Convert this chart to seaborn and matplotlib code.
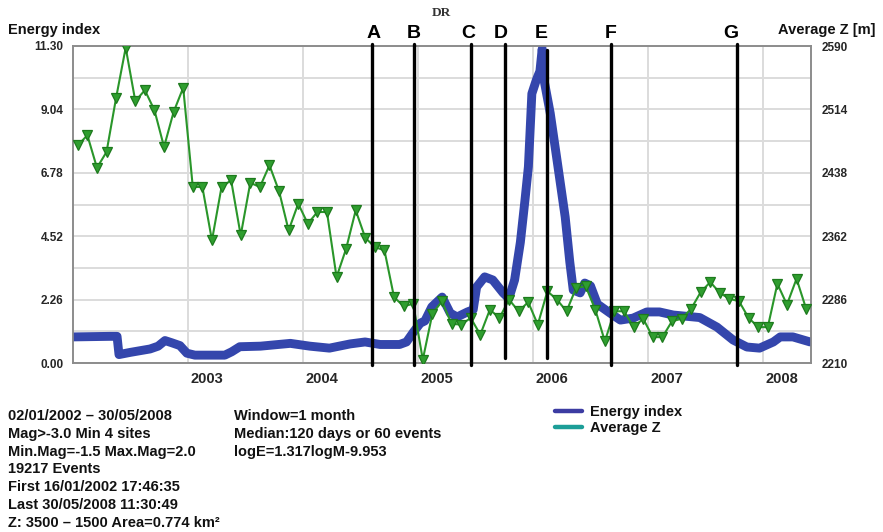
import numpy as np
import pandas as pd
import matplotlib
matplotlib.use("Agg")
import matplotlib.pyplot as plt
from matplotlib.lines import Line2D
from matplotlib.ticker import MultipleLocator
from matplotlib.transforms import ScaledTranslation
import seaborn as sns

# ---------------------------------------------------------------- data
# Energy index (left axis): knots of the smoothed daily curve, decimal years
energy_year = [2002.00, 2002.32, 2002.383, 2002.40, 2002.50, 2002.67, 2002.74,
               2002.80, 2002.86, 2002.93, 2002.99, 2003.06, 2003.32, 2003.38,
               2003.45, 2003.63, 2003.89, 2004.06, 2004.23, 2004.41, 2004.54,
               2004.67, 2004.84, 2004.90, 2004.96, 2005.02, 2005.06, 2005.12,
               2005.21, 2005.28, 2005.34, 2005.43, 2005.48, 2005.51, 2005.58,
               2005.65, 2005.74, 2005.79, 2005.84, 2005.89, 2005.93, 2005.96,
               2005.99, 2006.03, 2006.06, 2006.08, 2006.10, 2006.15, 2006.21,
               2006.28, 2006.32, 2006.35, 2006.41, 2006.45, 2006.50, 2006.56,
               2006.67, 2006.76, 2006.87, 2006.99, 2007.10, 2007.22, 2007.45,
               2007.60, 2007.74, 2007.86, 2007.97, 2008.09, 2008.15, 2008.26,
               2008.41]
energy_value = [0.93, 0.95, 0.95, 0.30, 0.38, 0.50, 0.60,
                0.80, 0.72, 0.62, 0.35, 0.28, 0.28, 0.40,
                0.58, 0.60, 0.70, 0.60, 0.53, 0.68, 0.75,
                0.66, 0.66, 0.75, 1.10, 1.42, 1.50, 2.00,
                2.35, 1.78, 1.64, 1.82, 1.90, 2.71, 3.07,
                2.96, 2.50, 2.30, 2.96, 4.30, 5.80, 7.00,
                9.60, 10.10, 10.40, 11.20, 10.00, 8.90, 7.20,
                5.20, 3.60, 2.60, 2.50, 2.85, 2.75, 2.10,
                1.78, 1.53, 1.60, 1.82, 1.82, 1.71, 1.62,
                1.28, 0.82, 0.57, 0.53, 0.75, 0.93, 0.93,
                0.75]

# Average event depth Z [m] (right axis), monthly from Jan 2002 to May 2008
depth_z = [2471, 2483, 2444, 2463, 2528, 2588, 2524, 2537, 2513, 2469, 2511, 2540,
           2421, 2421, 2357, 2421, 2429, 2363, 2426, 2421, 2447, 2416, 2369, 2401,
           2377, 2391, 2391, 2313, 2347, 2393, 2360, 2349, 2345, 2289, 2278, 2281,
           2214, 2269, 2284, 2257, 2256, 2264, 2244, 2274, 2264, 2286, 2272, 2283,
           2256, 2296, 2286, 2272, 2300, 2302, 2274, 2236, 2272, 2272, 2253, 2263,
           2241, 2241, 2260, 2263, 2275, 2295, 2307, 2294, 2287, 2284, 2264, 2253,
           2253, 2305, 2280, 2311, 2275]
depth_first_year = 2002

# Marked events
event_labels = ["A", "B", "C", "D", "E", "F", "G"]
event_year = [2004.600, 2004.965, 2005.461, 2005.757, 2006.122, 2006.678, 2007.774]

energy_ticks = [0.00, 2.26, 4.52, 6.78, 9.04, 11.30]
depth_ticks = [2210, 2286, 2362, 2438, 2514, 2590]
year_ticks = [2003, 2004, 2005, 2006, 2007, 2008]

info_left = ["02/01/2002 \u2013 30/05/2008",
             "Mag>-3.0 Min 4 sites",
             "Min.Mag=-1.5 Max.Mag=2.0",
             "19217 Events",
             "First 16/01/2002 17:46:35",
             "Last 30/05/2008 11:30:49",
             "Z: 3500 \u2013 1500 Area=0.774 km\u00b2"]
info_right = ["Window=1 month",
              "Median:120 days or 60 events",
              "logE=1.317logM-9.953"]
legend_labels = ["Energy index", "Average Z"]

# ---------------------------------------------------------------- style
sns.set_theme(style="white")
plt.rcParams["font.family"] = ["Liberation Sans", "DejaVu Sans"]
plt.rcParams["font.weight"] = "bold"
plt.rcParams["text.color"] = "#111111"

W, H = 883, 532
fig = plt.figure(figsize=(W / 100, H / 100), dpi=100)
px_l, px_r, px_t, px_b = 73, 811, 46, 363
ax = fig.add_axes([px_l / W, 1 - px_b / H, (px_r - px_l) / W, (px_b - px_t) / H])
ax2 = ax.twinx()

energy_df = pd.DataFrame({"year": energy_year, "energy": energy_value})
month_pos = depth_first_year + (np.arange(len(depth_z)) + 0.5) / 12
depth_df = pd.DataFrame({"year": month_pos, "z": depth_z})

blue = "#3446ac"
green = "#2a962a"

sns.lineplot(data=energy_df, x="year", y="energy", ax=ax, color=blue,
             lw=6.4, estimator=None, sort=False, solid_capstyle="round",
             solid_joinstyle="round", zorder=3)
sns.lineplot(data=depth_df, x="year", y="z", ax=ax2, color=green, lw=1.5,
             estimator=None, sort=False, marker="v", markersize=6.5,
             markerfacecolor="#2f9e2f", markeredgecolor="#1d7a1d",
             markeredgewidth=0.9, zorder=4)

# axes limits and ticks
ax.set_xlim(2002.0, 2002.0 + (px_r - px_l) / 115)
ax.set_ylim(0, 11.30)
ax2.set_ylim(2210, 2590)

ax.set_yticks(energy_ticks)
ax.set_yticklabels([f"{t:.2f}" for t in energy_ticks], fontweight="bold")
ax.yaxis.set_minor_locator(MultipleLocator(1.13))
ax2.set_yticks(depth_ticks)
ax2.set_yticklabels([str(t) for t in depth_ticks], fontweight="bold")
ax.set_xticks(year_ticks)
ax.set_xticklabels([str(y) for y in year_ticks], fontweight="bold")
ax.xaxis.set_minor_locator(MultipleLocator(1 / 12))

ax.set_xlabel("")
ax.set_ylabel("")
ax2.set_ylabel("")

ax.grid(axis="y", which="both", color="#dcdcdc", lw=1.4)
ax.grid(axis="x", which="major", color="#dcdcdc", lw=1.4)
ax.set_axisbelow(True)

ax.tick_params(axis="y", which="both", length=0, pad=7, labelsize=8.5)
ax2.tick_params(axis="y", which="both", length=0, pad=8, labelsize=8.5)
ax.tick_params(axis="x", which="major", length=0, pad=6.5, labelsize=10.5)
ax.tick_params(axis="x", which="minor", direction="in", length=3,
               width=0.8, color="#9a9a9a")
shift = ScaledTranslation(19 / 100, 0, fig.dpi_scale_trans)
for lab in ax.get_xticklabels():
    lab.set_transform(lab.get_transform() + shift)

for a in (ax, ax2):
    for s in a.spines.values():
        s.set_color("#8c8c8c")
        s.set_linewidth(1.2)

# event markers
span = px_b - px_t
line_top = [1 + 2 / span, 1 + 2 / span, 1 + 2 / span, 1 + 2 / span, 1 - 4 / span,
            1 + 2 / span, 1 + 2 / span]
line_bot = [-2 / span, -2 / span, -2 / span, 5 / span, 5 / span, -2 / span, -2 / span]
label_dx = [2, 0, -3, -4, -6, 0, -6]
xt = ax2.get_xaxis_transform()
for lab, yr, y0, y1, dx in zip(event_labels, event_year, line_bot, line_top, label_dx):
    ax2.axvline(yr, ymin=y0, ymax=y1, color="black", lw=2.4, clip_on=False, zorder=6)
    ax2.text(yr, 1 + 13 / span, lab,
             transform=xt + ScaledTranslation(dx / 100, 0, fig.dpi_scale_trans),
             ha="center", va="center", fontsize=14, fontweight="bold", color="black")

# titles
fig.text(441 / W, 1 - 13 / H, "DR", family=["Liberation Serif", "DejaVu Serif"],
         fontweight="bold", fontsize=9.5, color="#333333", ha="center", va="center")
fig.text(8 / W, 1 - 30 / H, "Energy index", fontsize=10.5, fontweight="bold",
         ha="left", va="center")
fig.text(876 / W, 1 - 30 / H, "Average Z [m]", fontsize=10.5, fontweight="bold",
         ha="right", va="center")

# run information (baseline-aligned rows)
row0, row_step = 420, 17.8
for i, t in enumerate(info_left):
    fig.text(8 / W, 1 - (row0 + row_step * i) / H, t, fontsize=10.5,
             fontweight="bold", ha="left", va="baseline")
for i, t in enumerate(info_right):
    fig.text(234 / W, 1 - (row0 + row_step * i) / H, t, fontsize=10.5,
             fontweight="bold", ha="left", va="baseline")

handles = [Line2D([], [], color="#3c3ca2", lw=3.2),
           Line2D([], [], color="#1c9e98", lw=3.2)]
fig.legend(handles=handles, labels=legend_labels, loc="upper left",
           bbox_to_anchor=(555 / W, 1 - 405 / H), frameon=False, borderpad=0,
           borderaxespad=0, handlelength=1.85, handletextpad=0.55,
           labelspacing=0.15, prop={"weight": "bold", "size": 10.5})

fig.savefig("out.png", dpi=100)
